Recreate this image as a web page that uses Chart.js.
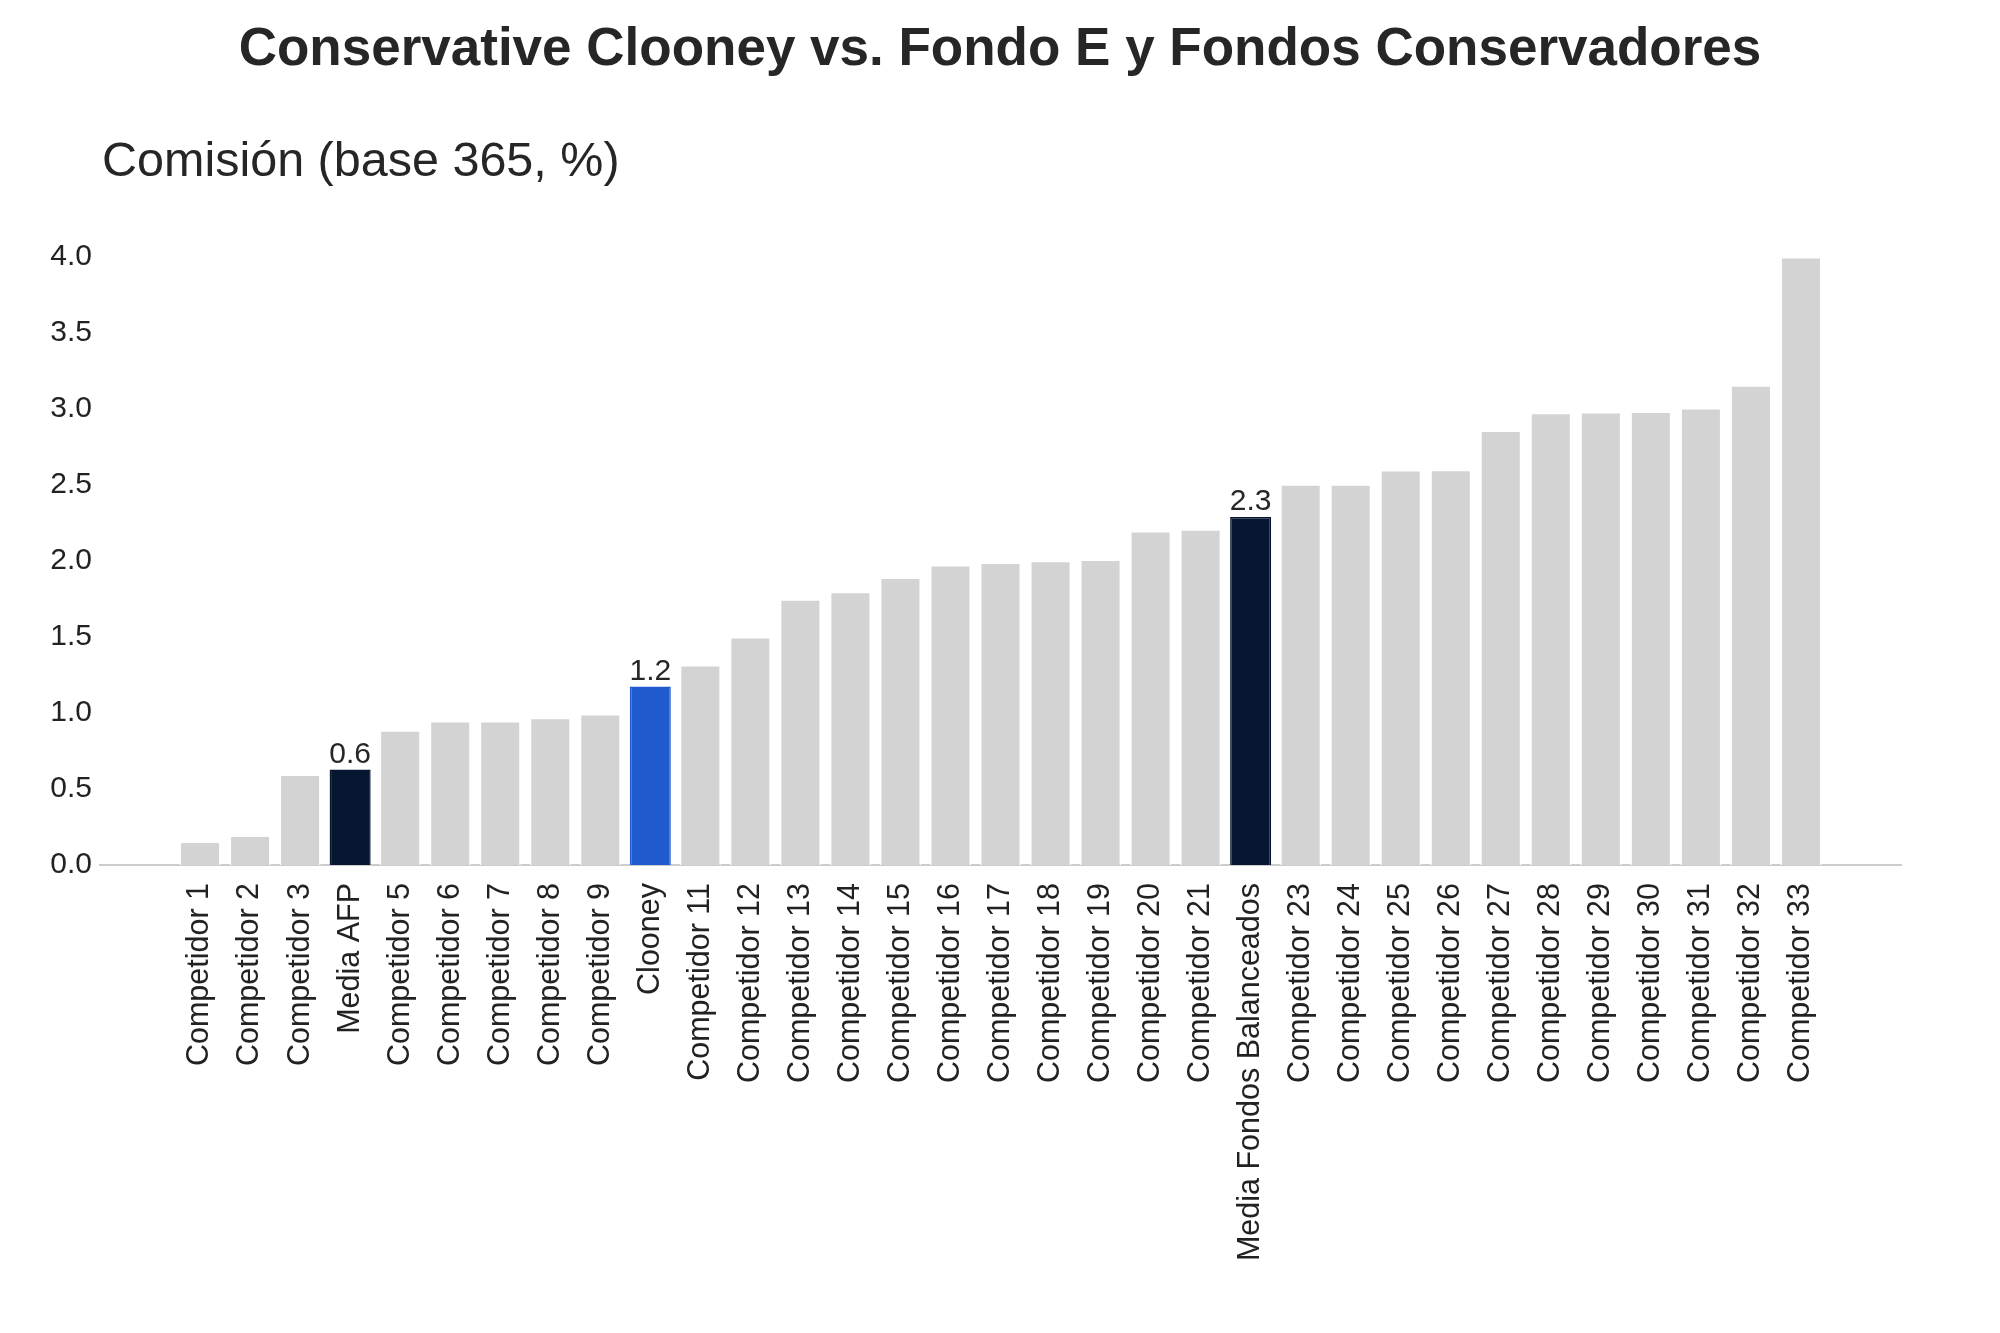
<!DOCTYPE HTML>
<html>
  <head>
    <meta charset="UTF-8"/>
    <title>Conservative Clooney vs. Fondo E y Fondos Conservadores</title>
    <script src="https://cdn.jsdelivr.net/npm/chart.js@4.4.1/dist/chart.umd.min.js"></script>
    <style>
     html, body {
       margin: 0;
       padding: 0;
       background: #ffffff;
     }
     div.chart {
       position: relative;
       width: 2000px;
       height: 1333px;
     }
    </style>
  </head>
  <body>
    <div class="chart">
      <canvas id="chart-comision"></canvas>
    </div>

    <script>
     var titulo = "Conservative Clooney vs. Fondo E y Fondos Conservadores";
     var subtitulo = "Comisión (base 365, %)";

     var categorias = [
         "Competidor 1", "Competidor 2", "Competidor 3", "Media AFP",
         "Competidor 5", "Competidor 6", "Competidor 7", "Competidor 8",
         "Competidor 9", "Clooney", "Competidor 11", "Competidor 12",
         "Competidor 13", "Competidor 14", "Competidor 15", "Competidor 16",
         "Competidor 17", "Competidor 18", "Competidor 19", "Competidor 20",
         "Competidor 21", "Media Fondos Balanceados", "Competidor 23",
         "Competidor 24", "Competidor 25", "Competidor 26", "Competidor 27",
         "Competidor 28", "Competidor 29", "Competidor 30", "Competidor 31",
         "Competidor 32", "Competidor 33"
     ];

     var comisiones = [
         0.155, 0.194, 0.595, 0.628, 0.886, 0.947, 0.947, 0.969, 0.994,
         1.174, 1.315, 1.500, 1.749, 1.797, 1.891, 1.974, 1.990, 2.001,
         2.010, 2.198, 2.209, 2.289, 2.505, 2.505, 2.599, 2.600, 2.859,
         2.976, 2.981, 2.984, 3.006, 3.156, 4.000
     ];

     // barras destacadas y su color
     var destacados = {
         "Media AFP": "#061530",
         "Clooney": "#1f5bcf",
         "Media Fondos Balanceados": "#061530"
     };

     var ticksY = [0, 0.5, 1.0, 1.5, 2.0, 2.5, 3.0, 3.5, 4.0];

     var gris = "#d3d3d3";
     var fuente = "'Liberation Sans', Arial, Helvetica, sans-serif";

     var fill = categorias.map(c => destacados[c] || gris);
     var borde = categorias.map(c => destacados[c] || "#ffffff");

     var encabezado = {
         id: "encabezado",
         afterDraw: function(chart){
             var ctx = chart.ctx;
             ctx.save();
             ctx.fillStyle = "#262626";
             ctx.textBaseline = "alphabetic";
             ctx.font = "bold 53px " + fuente;
             ctx.textAlign = "center";
             ctx.fillText(titulo, chart.width / 2, 65);
             ctx.font = "48.5px " + fuente;
             ctx.textAlign = "left";
             ctx.fillText(subtitulo, chart.chartArea.left + 2, 176);
             ctx.restore();
         }
     };

     var etiquetas = {
         id: "etiquetas",
         afterDatasetsDraw: function(chart){
             var ctx = chart.ctx;
             var meta = chart.getDatasetMeta(0);
             ctx.save();
             ctx.fillStyle = "#262626";
             ctx.font = "30px " + fuente;
             ctx.textAlign = "center";
             ctx.textBaseline = "alphabetic";
             categorias.forEach(function(c, i){
                 if (!destacados[c]) return;
                 var bar = meta.data[i];
                 ctx.fillText(comisiones[i].toFixed(1), bar.x, bar.y - 7);
             });
             ctx.restore();
         }
     };

     new Chart("chart-comision", {
         type: "bar",
         data: {
             datasets: [{
                 label: subtitulo,
                 data: comisiones.map((v, i) => ({x: i + 1, y: v})),
                 backgroundColor: fill,
                 borderColor: borde,
                 borderWidth: 1.5,
                 borderSkipped: "start",
                 categoryPercentage: 1.0,
                 barPercentage: 0.82
             }]
         },
         options: {
             responsive: true,
             maintainAspectRatio: false,
             animation: false,
             layout: {
                 padding: {top: 257, right: 99, bottom: 0, left: 0}
             },
             plugins: {
                 legend: {display: false},
                 tooltip: {enabled: false}
             },
             scales: {
                 x: {
                     type: "linear",
                     offset: false,
                     min: -1,
                     max: 35,
                     afterBuildTicks: function(scale){
                         scale.ticks = categorias.map((c, i) => ({value: i + 1}));
                     },
                     afterFit: function(scale){
                         scale.height = 468;
                     },
                     grid: {display: false, drawTicks: false, offset: false},
                     border: {display: true, color: "#cccccc", width: 2},
                     ticks: {
                         autoSkip: false,
                         maxRotation: 90,
                         minRotation: 90,
                         padding: 18,
                         color: "#222222",
                         font: {family: fuente, size: 30.5},
                         callback: function(v){
                             return categorias[v - 1] || "";
                         }
                     }
                 },
                 y: {
                     min: 0,
                     max: 4,
                     afterBuildTicks: function(scale){
                         scale.ticks = ticksY.map(v => ({value: v}));
                     },
                     afterFit: function(scale){
                         scale.width = 100;
                     },
                     grid: {display: false, drawTicks: false},
                     border: {display: false},
                     ticks: {
                         padding: 8,
                         color: "#222222",
                         font: {family: fuente, size: 30},
                         callback: function(v){
                             return v.toFixed(1);
                         }
                     }
                 }
             }
         },
         plugins: [encabezado, etiquetas]
     });
    </script>
  </body>
</html>
